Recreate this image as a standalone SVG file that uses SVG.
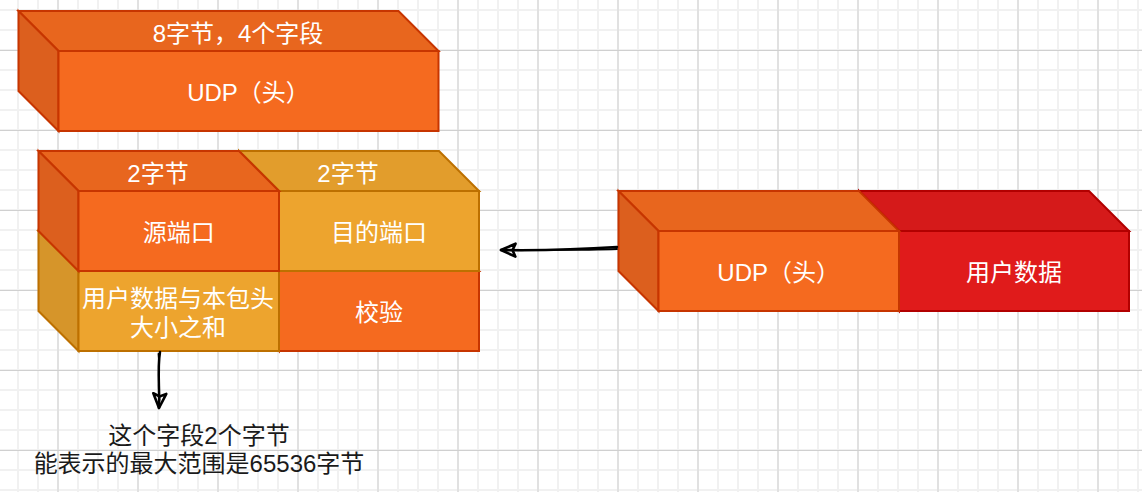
<svg xmlns="http://www.w3.org/2000/svg" width="1142" height="492" viewBox="0 0 1142 492">
  <style>
    .lbl { font-family: "Liberation Sans", "Noto Sans CJK SC", sans-serif; font-size: 24px; fill: #ffffff; text-anchor: middle; }
    .note { font-family: "Liberation Sans", "Noto Sans CJK SC", sans-serif; font-size: 24px; fill: #1a1a1a; text-anchor: middle; }
    .face { stroke-width: 2; stroke-linejoin: miter; }
    .orange .front { fill: #F56A1F; stroke: #C73500; }
    .orange .top { fill: #E8661E; stroke: #C73500; }
    .orange .left { fill: #DC5F1E; stroke: #C73500; }
    .amber .front { fill: #EDA42E; stroke: #BD7000; }
    .amber .top { fill: #E29D2C; stroke: #BD7000; }
    .amber .left { fill: #D6952A; stroke: #BD7000; }
    .red .front { fill: #E01B1B; stroke: #B20000; }
    .red .top { fill: #D51A1A; stroke: #B20000; }
    .red .left { fill: #C81818; stroke: #B20000; }
    .edge { fill: none; stroke: #000000; stroke-width: 2.5; stroke-linecap: round; }
    .edge2 { fill: none; stroke: #000000; stroke-width: 1.8; stroke-linecap: round; }
  </style>
  <defs>
    <pattern id="minor" x="17" y="9" width="20" height="20" patternUnits="userSpaceOnUse">
      <rect x="0" y="0" width="2" height="20" fill="#f1f1f1"/>
      <rect x="0" y="0" width="20" height="2" fill="#f1f1f1"/>
    </pattern>
    <pattern id="major" x="57.5" y="50" width="80" height="80" patternUnits="userSpaceOnUse">
      <rect x="0" y="0" width="1" height="80" fill="#d0d0d0"/>
      <rect x="0" y="0" width="80" height="1" fill="#d0d0d0"/>
    </pattern>
    <marker id="hollow" viewBox="0 0 18 16" refX="16" refY="8" markerWidth="18" markerHeight="16" markerUnits="userSpaceOnUse" orient="auto">
      <path d="M1.5,1.5 L16,8 L1.5,14.5 L4.5,8 Z" fill="none" stroke="#000000" stroke-width="2.6" stroke-linejoin="round"/>
    </marker>
  </defs>

  <rect x="0" y="0" width="1142" height="492" fill="#ffffff"/>
  <rect x="0" y="0" width="1142" height="492" fill="url(#minor)"/>
  <rect x="0" y="0" width="1142" height="492" fill="url(#major)"/>

  <!-- Top cube: UDP header -->
  <g id="udp-header-top" class="orange">
    <path class="face top" d="M18.5,11 L398.5,11 L438.5,51 L58.5,51 Z"/>
    <path class="face left" d="M18.5,11 L58.5,51 L58.5,131 L18.5,91 Z"/>
    <rect class="face front" x="58.5" y="51" width="380" height="80"/>
    <text class="lbl" x="238" y="42">8字节，4个字段</text>
    <text class="lbl" x="248.5" y="101">UDP（头）</text>
  </g>

  <!-- Middle: header fields -->
  <g id="field-checksum" class="orange">
    <path class="face top" d="M239,231 L439,231 L479,271 L279,271 Z"/>
    <path class="face left" d="M239,231 L279,271 L279,351 L239,311 Z"/>
    <rect class="face front" x="279" y="271" width="200" height="80"/>
    <text class="lbl" x="379" y="321">校验</text>
  </g>
  <g id="field-length" class="amber">
    <path class="face top" d="M38.5,231 L239,231 L279,271 L78.5,271 Z"/>
    <path class="face left" d="M38.5,231 L78.5,271 L78.5,351 L38.5,311 Z"/>
    <rect class="face front" x="78.5" y="271" width="200.5" height="80"/>
    <text class="lbl" x="178" y="307">用户数据与本包头</text>
    <text class="lbl" x="178" y="336">大小之和</text>
  </g>
  <g id="field-dst-port" class="amber">
    <path class="face top" d="M239,151 L439,151 L479,191 L279,191 Z"/>
    <path class="face left" d="M239,151 L279,191 L279,271 L239,231 Z"/>
    <rect class="face front" x="279" y="191" width="200" height="80"/>
    <text class="lbl" x="348" y="181.5">2字节</text>
    <text class="lbl" x="379" y="241">目的端口</text>
  </g>
  <g id="field-src-port" class="orange">
    <path class="face top" d="M38.5,151 L239,151 L279,191 L78.5,191 Z"/>
    <path class="face left" d="M38.5,151 L78.5,191 L78.5,271 L38.5,231 Z"/>
    <rect class="face front" x="78.5" y="191" width="200.5" height="80"/>
    <text class="lbl" x="158" y="181.5">2字节</text>
    <text class="lbl" x="178.7" y="241">源端口</text>
  </g>

  <!-- Right: datagram -->
  <g id="user-data" class="red">
    <path class="face top" d="M859,191 L1089,191 L1129,231 L899,231 Z"/>
    <path class="face left" d="M859,191 L899,231 L899,311 L859,271 Z"/>
    <rect class="face front" x="899" y="231" width="230" height="80"/>
    <text class="lbl" x="1014" y="281">用户数据</text>
  </g>
  <g id="udp-header-right" class="orange">
    <path class="face top" d="M618.5,191 L859,191 L899,231 L658.5,231 Z"/>
    <path class="face left" d="M618.5,191 L658.5,231 L658.5,311 L618.5,271 Z"/>
    <rect class="face front" x="658.5" y="231" width="240.5" height="80"/>
    <text class="lbl" x="778.7" y="281">UDP（头）</text>
  </g>

  <!-- Note text -->
  <g id="note">
    <text class="note" x="199" y="444">这个字段2个字节</text>
    <text class="note" x="199" y="472">能表示的最大范围是65536字节</text>
  </g>

  <!-- Connectors -->
  <g id="connectors">
    <path class="edge" d="M617,247 C580,249.5 540,250.5 501,250" marker-end="url(#hollow)"/>
    <path class="edge2" d="M617,249 C575,250.5 535,249.5 506,250.5"/>
    <path class="edge" d="M160,352 C157,370 160,390 159,408" marker-end="url(#hollow)"/>
    <path class="edge2" d="M158.5,354 C160.5,372 157.5,388 159.5,400"/>
  </g>
</svg>
